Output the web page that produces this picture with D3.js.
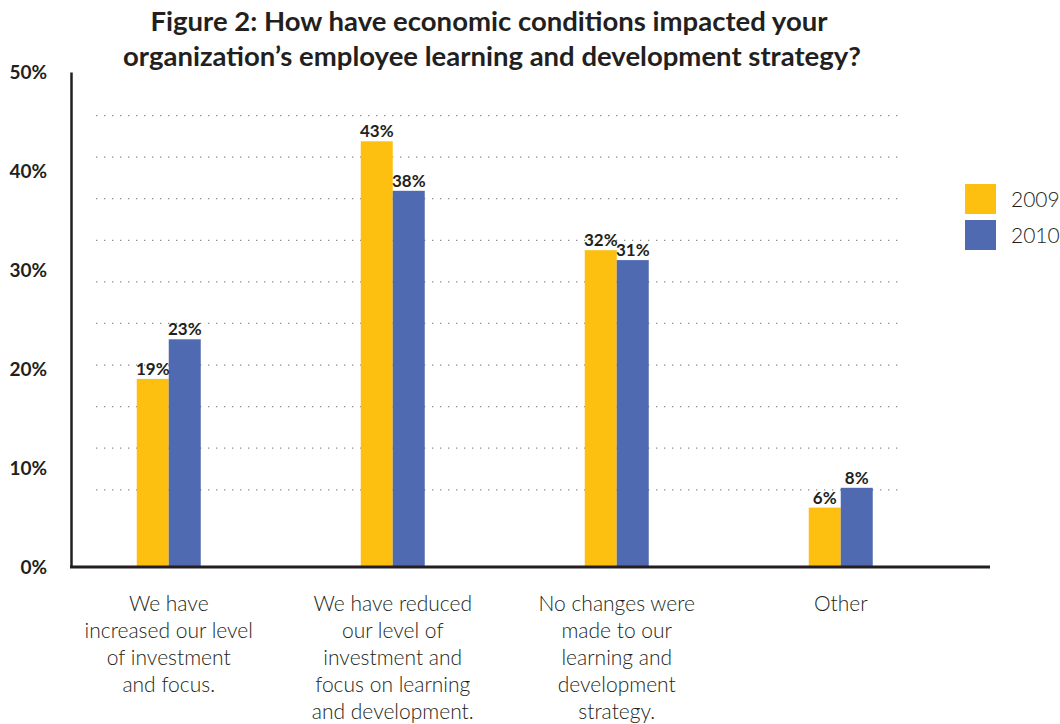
<!DOCTYPE html>
<html lang="en">
<head>
  <meta charset="UTF-8">
  <title>Figure 2</title>
  <style>
    body {
      margin: 0;
      background: #fff;
      font-family: Lato, "Open Sans", sans-serif;
    }
    svg text { fill: #231f20; }
  </style>
</head>
<body>

<script src="https://d3js.org/d3.v7.min.js"></script>
<script>
  // Data
  const categories = [
    ['We have', 'increased our level', 'of investment', 'and focus.'],
    ['We have reduced', 'our level of', 'investment and', 'focus on learning', 'and development.'],
    ['No changes were', 'made to our', 'learning and', 'development', 'strategy.'],
    ['Other']
  ];
  const series = ['2009', '2010'];
  const values2009 = [19, 43, 32, 6];
  const values2010 = [23, 38, 31, 8];
  const yTicks = [0, 10, 20, 30, 40, 50];
  const gridLevels = [7.8, 12, 16.2, 20.4, 24.6, 28.8, 33, 37.2, 41.4, 45.6];

  const colors = { '2009': '#fdc010', '2010': '#4f6ab0' };

  const width = 1060;
  const height = 724;

  const svg = d3.select('body')
    .append('svg')
    .attr('width', width)
    .attr('height', height);

  // Scales
  const x = d3.scaleBand()
    .domain(d3.range(categories.length))
    .range([56.75, 952.75]);

  const xSub = d3.scaleBand()
    .domain(series)
    .range([0, 64]);

  const y = d3.scaleLinear()
    .domain([0, 50])
    .range([567, 72]);

  // Title
  svg.append('text')
    .attr('x', 489)
    .attr('y', 31)
    .attr('text-anchor', 'middle')
    .style('font-size', '27.5px')
    .style('font-weight', 'bold')
    .text('Figure 2: How have economic conditions impacted your');
  svg.append('text')
    .attr('x', 492)
    .attr('y', 66)
    .attr('text-anchor', 'middle')
    .style('font-size', '27.5px')
    .style('font-weight', 'bold')
    .text('organization\u2019s employee learning and development strategy?');

  // Dotted grid
  svg.selectAll('.grid')
    .data(gridLevels)
    .enter()
    .append('line')
    .attr('class', 'grid')
    .attr('x1', 96)
    .attr('x2', 903)
    .attr('y1', d => y(d))
    .attr('y2', d => y(d))
    .attr('stroke', '#8a8a8a')
    .attr('stroke-width', 1.3)
    .attr('stroke-dasharray', '1.3,6.7');

  // Bars
  const groups = svg.selectAll('.group')
    .data(categories.map((c, i) => ({ i: i, vals: [values2009[i], values2010[i]] })))
    .enter()
    .append('g')
    .attr('class', 'group')
    .attr('transform', d => 'translate(' + (x(d.i) + x.bandwidth() / 2 - 32) + ',0)');

  groups.selectAll('rect')
    .data(d => series.map((s, k) => ({ s: s, v: d.vals[k] })))
    .enter()
    .append('rect')
    .attr('x', d => xSub(d.s))
    .attr('y', d => y(d.v))
    .attr('width', xSub.bandwidth())
    .attr('height', d => y(0) - y(d.v))
    .attr('fill', d => colors[d.s]);

  groups.selectAll('.val')
    .data(d => series.map((s, k) => ({ s: s, v: d.vals[k] })))
    .enter()
    .append('text')
    .attr('class', 'val')
    .attr('x', d => xSub(d.s) + xSub.bandwidth() / 2)
    .attr('y', d => y(d.v) - 4)
    .attr('text-anchor', 'middle')
    .style('font-size', '17px')
    .style('font-weight', 'bold')
    .text(d => d.v + '%');

  // Y axis
  const yAxis = svg.append('g')
    .attr('transform', 'translate(71,0)')
    .call(d3.axisLeft(y).tickValues(yTicks).tickSize(0).tickPadding(24).tickFormat(d => d + '%'));
  yAxis.select('.domain').attr('stroke', '#231f20').attr('stroke-width', 2.5);
  yAxis.selectAll('text')
    .style('font-family', 'Lato, sans-serif')
    .style('font-size', '19px')
    .style('font-weight', 'bold')
    .attr('fill', '#231f20');

  // X axis line
  svg.append('line')
    .attr('x1', 70)
    .attr('x2', 990)
    .attr('y1', y(0))
    .attr('y2', y(0))
    .attr('stroke', '#231f20')
    .attr('stroke-width', 3);

  // Category labels
  const catText = svg.selectAll('.cat')
    .data(categories)
    .enter()
    .append('text')
    .attr('class', 'cat')
    .attr('text-anchor', 'middle')
    .style('font-size', '21px')
    .style('font-weight', 300);
  catText.selectAll('tspan')
    .data((d, i) => d.map(line => ({ line: line, i: i })))
    .enter()
    .append('tspan')
    .attr('x', d => x(d.i) + x.bandwidth() / 2)
    .attr('y', (d, j) => 611 + j * 27)
    .text(d => d.line);

  // Legend
  const legend = svg.selectAll('.legend')
    .data(series)
    .enter()
    .append('g')
    .attr('class', 'legend')
    .attr('transform', (d, i) => 'translate(965,' + (184 + i * 36) + ')');
  legend.append('rect')
    .attr('width', 31)
    .attr('height', 30)
    .attr('fill', d => colors[d]);
  legend.append('text')
    .attr('x', 46)
    .attr('y', 23)
    .style('font-size', '21px')
    .style('font-weight', 300)
    .text(d => d);
</script>

</body>
</html>
